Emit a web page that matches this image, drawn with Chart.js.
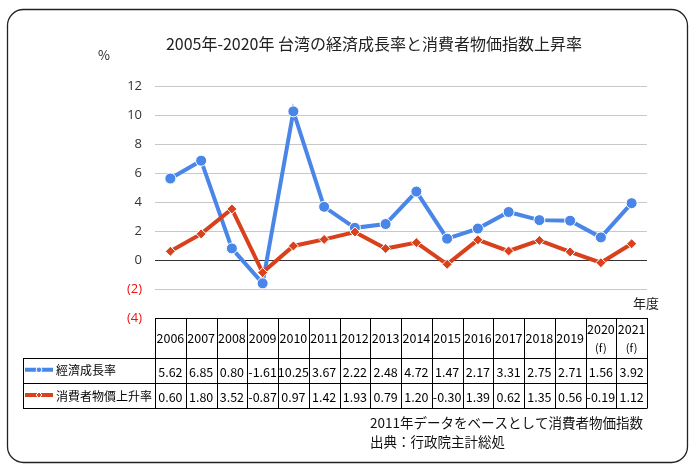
<!DOCTYPE html>
<html><head><meta charset="utf-8">
<script src="https://cdn.jsdelivr.net/npm/chart.js@4"></script>
<style>html,body{margin:0;padding:0;background:#fff;}#wrap{width:698px;height:473px;position:relative;}</style>
</head><body><div id="wrap"><canvas id="c" width="698" height="473"></canvas></div>
<script>
const years = ['2006','2007','2008','2009','2010','2011','2012','2013','2014','2015','2016','2017','2018','2019','2020','2021'];
const yearSub = ['','','','','','','','','','','','','','','(f)','(f)'];
const gdpGrowth = [5.62,6.85,0.80,-1.61,10.25,3.67,2.22,2.48,4.72,1.47,2.17,3.31,2.75,2.71,1.56,3.92];
const cpiGrowth = [0.60,1.80,3.52,-0.87,0.97,1.42,1.93,0.79,1.20,-0.30,1.39,0.62,1.35,0.56,-0.19,1.12];
const seriesNames = ['經濟成長率','消費者物價上升率'];
const titleText = '2005年-2020年 台湾の経済成長率と消費者物価指数上昇率';
const noteLines = ['2011年データをベースとして消費者物価指数','出典：行政院主計総処'];

const BLUE = '#4a86e8';
const RED = '#d9401c';
const JP = '"Noto Sans CJK JP", "Noto Sans", sans-serif';

function fmt(v){ return v.toFixed(2); }

const overlay = {
  id: 'overlay',
  afterDraw(chart) {
    const ctx = chart.ctx;
    const ca = chart.chartArea;
    const xs = chart.scales.x;
    ctx.save();
    // outer rounded border
    ctx.strokeStyle = '#222';
    ctx.lineWidth = 1.3;
    ctx.beginPath();
    ctx.roundRect(7.5, 9.5, 680, 453, 16);
    ctx.stroke();
    // title
    ctx.fillStyle = '#222';
    ctx.font = '16px ' + JP;
    ctx.textAlign = 'center';
    ctx.textBaseline = 'middle';
    ctx.fillText(titleText, 374, 44);
    ctx.font = '13px ' + JP;
    ctx.fillText('%', 104, 55);
    ctx.fillText('年度', 646, 303);

    // table
    const n = years.length;
    const colW = (ca.right - ca.left) / n;
    const left = ca.left, right = ca.right;
    const labL = 23;
    const y0 = ca.bottom, y1 = 358, y2 = 383.5, y3 = 408.5;
    ctx.strokeStyle = '#000';
    ctx.lineWidth = 1;
    ctx.beginPath();
    ctx.moveTo(left, y0 + 0.5); ctx.lineTo(right, y0 + 0.5);
    ctx.moveTo(labL, y1 + 0.5); ctx.lineTo(right, y1 + 0.5);
    ctx.moveTo(labL, y2); ctx.lineTo(right, y2);
    ctx.moveTo(labL, y3); ctx.lineTo(right, y3);
    ctx.moveTo(labL + 0.5, y1); ctx.lineTo(labL + 0.5, y3);
    for (let i = 0; i <= n; i++) {
      const x = Math.round(left + i * colW) + 0.5;
      ctx.moveTo(x, y0); ctx.lineTo(x, y3);
    }
    ctx.stroke();

    ctx.fillStyle = '#000';
    ctx.font = '12.5px ' + JP;
    ctx.textAlign = 'center';
    for (let i = 0; i < n; i++) {
      const cx = xs.getPixelForValue(i);
      if (yearSub[i]) {
        ctx.fillText(years[i], cx, 329);
        ctx.font = '11px ' + JP;
        ctx.fillText(yearSub[i], cx, 348);
        ctx.font = '12.5px ' + JP;
      } else {
        ctx.fillText(years[i], cx, 338);
      }
      ctx.fillText(fmt(gdpGrowth[i]), cx, (y1 + y2) / 2 + 1);
      ctx.fillText(fmt(cpiGrowth[i]), cx, (y2 + y3) / 2 + 1);
    }
    // legend cells
    const sets = chart.data.datasets;
    const rows = [(y1 + y2) / 2, (y2 + y3) / 2];
    rows.forEach((ry, k) => {
      const col = sets[k].borderColor;
      ctx.strokeStyle = col;
      ctx.lineWidth = 4;
      ctx.beginPath();
      ctx.moveTo(25, ry - 1); ctx.lineTo(53, ry - 1);
      ctx.stroke();
      ctx.fillStyle = col;
      ctx.strokeStyle = '#fff';
      ctx.lineWidth = 1;
      ctx.beginPath();
      if (k === 0) { ctx.arc(39, ry - 1, 2.8, 0, Math.PI * 2); }
      else { ctx.moveTo(39, ry - 4); ctx.lineTo(42, ry - 1); ctx.lineTo(39, ry + 2); ctx.lineTo(36, ry - 1); ctx.closePath(); }
      ctx.fill(); ctx.stroke();
      ctx.fillStyle = '#000';
      ctx.font = '12px ' + JP;
      ctx.textAlign = 'left';
      ctx.fillText(seriesNames[k], 56, ry);
    });
    // notes
    ctx.font = '13.5px ' + JP;
    ctx.textAlign = 'left';
    ctx.fillStyle = '#111';
    ctx.fillText(noteLines[0], 370, 423);
    ctx.fillText(noteLines[1], 370, 442);
    ctx.restore();
  }
};

new Chart(document.getElementById('c'), {
  type: 'line',
  data: {
    labels: years,
    datasets: [
      { label: seriesNames[0], data: gdpGrowth, borderColor: BLUE, backgroundColor: BLUE,
        borderWidth: 4, pointStyle: 'circle', pointRadius: 5.5, pointBorderColor: '#fff', pointBorderWidth: 1,
        tension: 0, order: 2 },
      { label: seriesNames[1], data: cpiGrowth, borderColor: RED, backgroundColor: RED,
        borderWidth: 4, pointStyle: 'rectRot', pointRadius: 5, pointBorderColor: '#fff', pointBorderWidth: 1,
        tension: 0, order: 1 }
    ]
  },
  options: {
    responsive: false,
    animation: false,
    devicePixelRatio: 1,
    layout: { padding: { left: 95, right: 51, top: 86, bottom: 155 } },
    plugins: { legend: { display: false }, tooltip: { enabled: false }, title: { display: false } },
    scales: {
      x: { display: false, offset: true },
      y: {
        min: -4, max: 12,
        afterFit(s) { s.width = 60; },
        border: { display: false },
        grid: {
          drawTicks: false,
          color: ctx => ctx.tick && ctx.tick.value === 0 ? '#333' : (ctx.tick && ctx.tick.value === -4 ? 'rgba(0,0,0,0)' : '#c8c8c8'),
          lineWidth: 1
        },
        ticks: {
          stepSize: 2,
          padding: 13,
          font: { family: '"Open Sans", "Noto Sans", sans-serif', size: 13 },
          color: ctx => ctx.tick.value < 0 ? '#ee1111' : '#333',
          callback: v => v < 0 ? '(' + Math.abs(v) + ')' : String(v)
        }
      }
    }
  },
  plugins: [overlay]
});
</script></body></html>
